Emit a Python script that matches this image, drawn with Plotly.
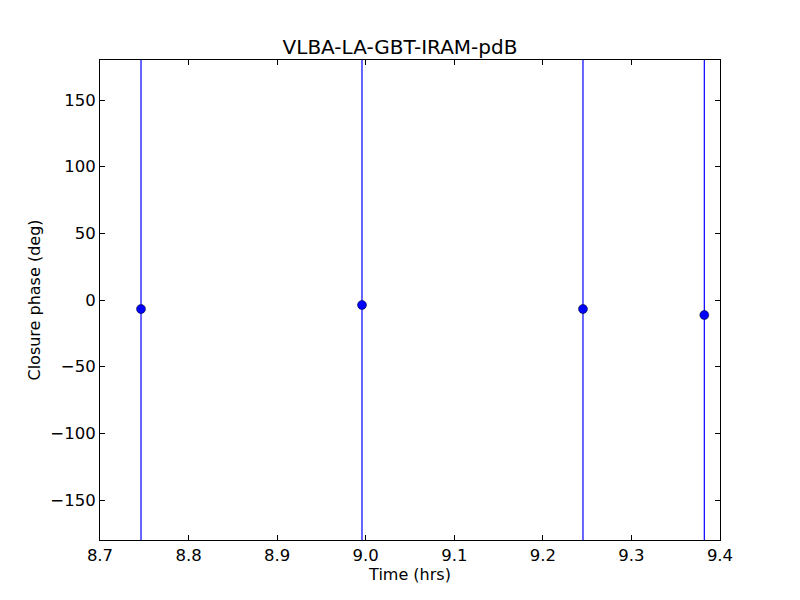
import plotly.graph_objects as go

time_hrs = [8.7463, 8.9958, 9.2453, 9.3823]
closure_phase = [-6.75, -3.75, -6.75, -11.25]
phase_err = [400, 400, 400, 400]

x_ticks = [8.7, 8.8, 8.9, 9.0, 9.1, 9.2, 9.3, 9.4]
x_tick_text = ["8.7", "8.8", "8.9", "9.0", "9.1", "9.2", "9.3", "9.4"]
y_ticks = [-150, -100, -50, 0, 50, 100, 150]
y_tick_text = ["\u2212150", "\u2212100", "\u221250", "0", "50", "100", "150"]

fig = go.Figure()
fig.add_trace(go.Scatter(
    x=time_hrs, y=closure_phase, mode="markers",
    marker=dict(color="#0000ff", size=9, line=dict(color="black", width=0.5)),
    error_y=dict(type="data", array=phase_err, visible=True, color="#0000ff",
                 thickness=1.2, width=0),
    cliponaxis=True,
))

axis_common = dict(showgrid=False, zeroline=False, ticks="inside", ticklen=5,
                   tickcolor="black", linecolor="black", linewidth=1,
                   showline=True, mirror="ticks", automargin=False,
                   tickfont=dict(size=16.5))
fig.update_layout(
    width=800, height=600,
    paper_bgcolor="white", plot_bgcolor="white",
    margin=dict(l=100, r=80, t=60, b=60, autoexpand=False),
    font=dict(family="DejaVu Sans", size=16, color="black"),
    title=dict(text="VLBA-LA-GBT-IRAM-pdB", x=0.5, xanchor="center",
               y=1 - 47/600, yanchor="middle", font=dict(size=20)),
    showlegend=False,
    xaxis=dict(range=[8.7, 9.4], tickvals=x_ticks, ticktext=x_tick_text,
               title=dict(text="Time (hrs)", standoff=0, font=dict(size=16)),
               **axis_common),
    yaxis=dict(range=[-180, 180], tickvals=y_ticks, ticktext=y_tick_text,
               title=dict(text="Closure phase (deg)", standoff=5, font=dict(size=16)),
               **axis_common),
)
fig.write_html("out.html", post_script="document.body.style.margin='0';",
               config={"displayModeBar": False})
